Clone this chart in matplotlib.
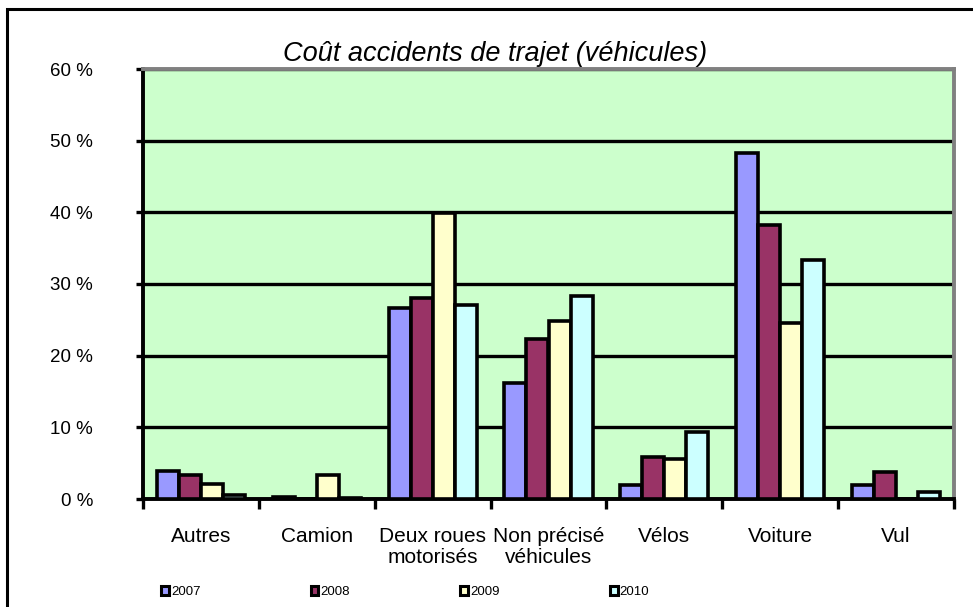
import matplotlib
matplotlib.use("Agg")
import matplotlib.pyplot as plt
import numpy as np
from matplotlib.patches import Rectangle, Patch

categories = ["Autres", "Camion", "Deux roues\nmotorisés", "Non précisé\nvéhicules", "Vélos", "Voiture", "Vul"]
years = ["2007", "2008", "2009", "2010"]
v2007 = [3.9, 0.3, 26.7, 16.2, 2.0, 48.3, 2.0]
v2008 = [3.4, 0.0, 28.0, 22.3, 5.9, 38.3, 3.8]
v2009 = [2.1, 3.4, 39.9, 24.9, 5.6, 24.6, 0.0]
v2010 = [0.5, 0.2, 27.1, 28.3, 9.3, 33.3, 1.0]
yticks = [0, 10, 20, 30, 40, 50, 60]
ytick_labels = ["0 %", "10 %", "20 %", "30 %", "40 %", "50 %", "60 %"]
title = "Coût accidents de trajet (véhicules)"
colors = ["#9999FF", "#993366", "#FFFFCC", "#CCFFFF"]

plt.rcParams['font.family'] = ['Liberation Sans', 'DejaVu Sans']
W, H = 973, 607
fig = plt.figure(figsize=(W / 100, H / 100), dpi=100)
ax = fig.add_axes([143 / W, 1 - 499 / H, (954 - 143) / W, (499 - 69) / H])
ax.set_facecolor("#CCFFCC")

series = [v2007, v2008, v2009, v2010]
x = np.arange(len(categories))
bw = 0.19
for i, (vals, c) in enumerate(zip(series, colors)):
    ax.bar(x + (i - 1.5) * bw, vals, width=bw, color=c, edgecolor="black",
           linewidth=2.6, zorder=3, label=years[i])

ax.set_xlim(-0.5, len(categories) - 0.5)
ax.set_ylim(0, 60)
ax.set_yticks(yticks)
ax.set_yticklabels(ytick_labels, fontsize=13.5)
ax.yaxis.grid(True, color="black", linewidth=2.4, zorder=1)
ax.set_axisbelow(True)

ax.set_xticks(x)
ax.set_xticklabels(categories, fontsize=15, linespacing=1.15)
ax.set_xticks(np.arange(len(categories) + 1) - 0.5, minor=True)
ax.tick_params(axis="x", which="major", length=0, pad=20)
ax.tick_params(axis="x", which="minor", length=7, width=2.4, direction="out")
ax.tick_params(axis="y", length=5, width=2.4, direction="out", pad=31)
for lab in ax.get_yticklabels():
    lab.set_horizontalalignment("right")

ax.spines["left"].set_linewidth(2.8)
ax.spines["bottom"].set_linewidth(2.8)
ax.spines["top"].set_color("#808080")
ax.spines["right"].set_color("#808080")
ax.spines["top"].set_linewidth(2.8)
ax.spines["right"].set_linewidth(2.8)

fig.text(495 / W, 1 - 54 / H, title, ha="center", va="center",
         fontsize=19.5, style="italic")

handles = [Patch(facecolor=c, edgecolor="black", linewidth=2.2) for c in colors]
fig.legend(handles, years, loc="center left", bbox_to_anchor=(161 / W, 1 - 592 / H),
           ncol=4, frameon=False, fontsize=9.5, handlelength=0.6, handleheight=0.6,
           handletextpad=0.15, columnspacing=8.35, borderaxespad=0, borderpad=0)

fig.patches.append(Rectangle((7 / W, -0.05), 1.0, 1.05 - 9 / H, transform=fig.transFigure,
                             fill=False, edgecolor="black", linewidth=2.2, clip_on=False))

fig.savefig("out.png", dpi=100)
